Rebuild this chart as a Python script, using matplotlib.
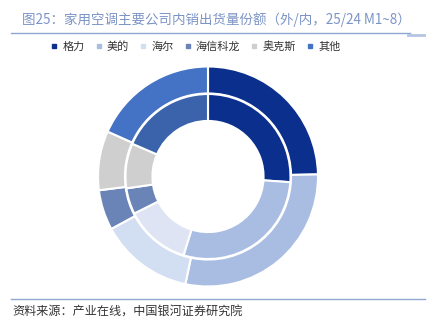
import matplotlib
matplotlib.use("Agg")
import matplotlib.pyplot as plt
from matplotlib.lines import Line2D

plt.rcParams['font.family'] = ['Noto Sans CJK SC', 'DejaVu Sans']

companies = ['格力', '美的', '海尔', '海信科龙', '奥克斯', '其他']
share_25 = [24.7, 28.6, 13.8, 5.9, 8.7, 18.3]   # outer ring, 2025 M1~8
share_24 = [26.1, 28.7, 12.8, 5.1, 8.8, 18.5]   # inner ring, 2024 M1~8

outer_colors = ['#0a2f8c', '#a9bde3', '#d2def1', '#6a84b8', '#d0cfcf', '#4472c4']
inner_colors = ['#0a2f8c', '#a9bde3', '#dee4f4', '#6a84b8', '#d0cfcf', '#3a63ab']

W, H = 444, 329
fig = plt.figure(figsize=(W / 100, H / 100), dpi=100)

# donut centre at (208, 176) px, outer radius ~110 px
cx, cy, R = 208, 176.5, 110
ax = fig.add_axes([(cx - R) / W, (H - cy - R) / H, 2 * R / W, 2 * R / H])
ax.pie(share_25, radius=1.0, colors=outer_colors, startangle=90, counterclock=False,
       wedgeprops=dict(width=0.245, edgecolor='white', linewidth=1.5))
ax.pie(share_24, radius=0.75, colors=inner_colors, startangle=90, counterclock=False,
       wedgeprops=dict(width=0.245, edgecolor='white', linewidth=1.5))
ax.set_xlim(-1, 1)
ax.set_ylim(-1, 1)
ax.set_aspect('equal')
ax.axis('off')

# title and rule
fig.text(22 / W, 1 - 20 / H, '图25：家用空调主要公司内销出货量份额（外/内，25/24 M1~8）',
         fontsize=9.7, color='#7b93c6', va='center', ha='left')
fig.add_artist(Line2D([11 / W, 410 / W], [1 - 33 / H, 1 - 33 / H], color='#8fa6d3', lw=1))
fig.add_artist(Line2D([408 / W, 424 / W], [1 - 34.5 / H, 1 - 34.5 / H], color='#b4c4e4', lw=2))

# legend
handles = [Line2D([], [], marker='s', ls='', markersize=3.5, color=c) for c in outer_colors]
fig.legend(handles, companies, loc='center', bbox_to_anchor=(196 / W, 1 - 46.5 / H), ncol=6,
           frameon=False, fontsize=8, handlelength=0.5, handletextpad=0.5, columnspacing=1.0,
           labelcolor='#333333')

# source
fig.add_artist(Line2D([11 / W, 425 / W], [1 - 299 / H, 1 - 299 / H], color='#8fa6d3', lw=1))
fig.text(12 / W, 1 - 312 / H, '资料来源：产业在线，中国银河证券研究院', fontsize=8.7,
         color='#333333', va='center', ha='left', style='italic')

fig.savefig('out.png', dpi=100)
